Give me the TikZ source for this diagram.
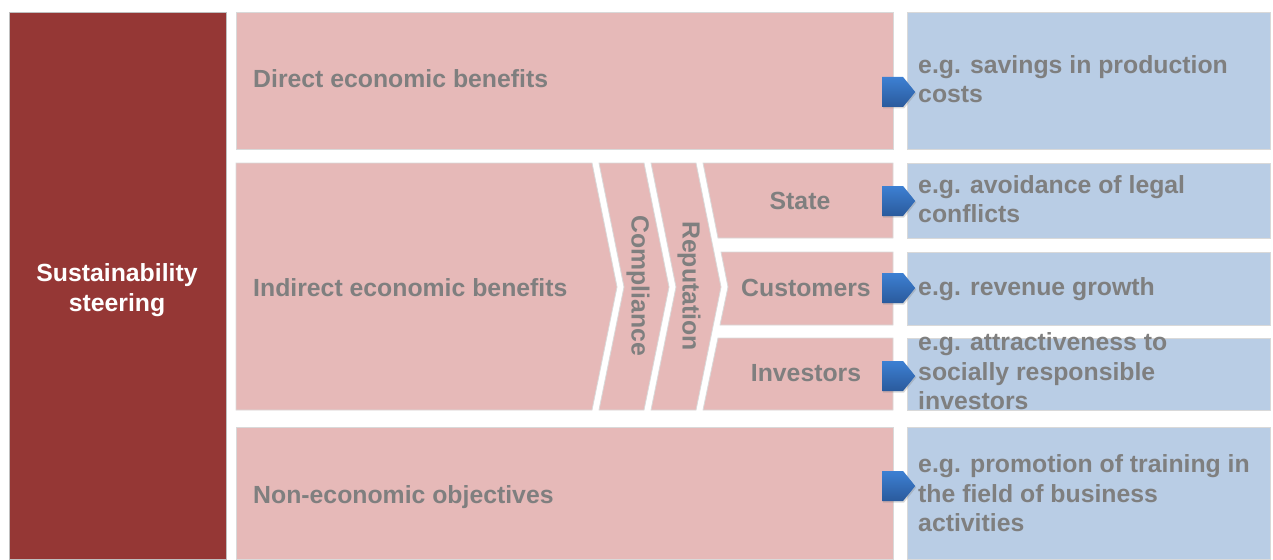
\documentclass[tikz,border=0pt]{standalone}
\usepackage{fontspec}
\setmainfont{Liberation Sans}
\usetikzlibrary{shapes.symbols,shadows}

\definecolor{steerred}{HTML}{953735}
\definecolor{benefitpink}{HTML}{E6B9B8}
\definecolor{exampleblue}{HTML}{B9CDE5}
\definecolor{labelgray}{HTML}{7F7F7F}
\definecolor{arrowtop}{HTML}{3D80D3}
\definecolor{arrowbottom}{HTML}{2A5A9C}

\begin{document}
\begin{tikzpicture}[
	x=1pt, y=-1pt,
	box line/.style={draw=black!15, line width=0.8pt},
	pink box/.style={box line, fill=benefitpink},
	blue box/.style={box line, fill=exampleblue},
	field node/.style={anchor=north west, inner sep=0pt, outer sep=0pt},
	label node/.style={font=\bfseries\fontsize{24.8}{29.5}\selectfont, text=labelgray, inner sep=0pt},
	example node/.style={label node, anchor=north west, align=left},
	block arrow/.style={shape=signal, signal to=east, signal pointer angle=102,
		minimum width=33pt, minimum height=30pt, inner sep=0pt, anchor=west,
		top color=arrowtop, bottom color=arrowbottom,
		drop shadow={shadow xshift=1pt, shadow yshift=-1.5pt, opacity=0.3}}
	]
	\useasboundingbox (0,0) rectangle (1273,559);

	% left column
	\node[field node, fill=steerred, draw=black!25, minimum width=217pt, minimum height=547pt] (steer) at (9,12) {};
	\node[label node, text=white, align=center] (steer label) at (117,290) {Sustainability\\steering};

	% direct and non-economic rows
	\node[field node, pink box, minimum width=657pt, minimum height=137pt] (direct) at (236,12) {};
	\node[field node, pink box, minimum width=657pt, minimum height=132pt] (noneco) at (236,427) {};

	% indirect row with the two chevrons
	\draw[pink box] (236,163) -- (592,163) -- (617,287) -- (592,410) -- (236,410) -- cycle;
	\draw[pink box] (599,163) -- (644,163) -- (669,287) -- (644,410) -- (599,410) -- (624,287) -- cycle;
	\draw[pink box] (651,163) -- (696,163) -- (721,287) -- (696,410) -- (651,410) -- (676,287) -- cycle;

	% stakeholder boxes, notched along the last chevron
	\draw[pink box] (703,163) -- (893,163) -- (893,238) -- (718,238) -- cycle;
	\draw[pink box] (721,252) -- (893,252) -- (893,325) -- (720,325) -- (728,287) -- cycle;
	\draw[pink box] (718,338) -- (893,338) -- (893,410) -- (703,410) -- cycle;

	% example column
	\node[field node, blue box, minimum width=363pt, minimum height=137pt] (ex direct) at (907,12) {};
	\node[field node, blue box, minimum width=363pt, minimum height=75pt] (ex state) at (907,163) {};
	\node[field node, blue box, minimum width=363pt, minimum height=73pt] (ex customers) at (907,252) {};
	\node[field node, blue box, minimum width=363pt, minimum height=72pt] (ex investors) at (907,338) {};
	\node[field node, blue box, minimum width=363pt, minimum height=132pt] (ex noneco) at (907,427) {};

	% row labels
	\node[label node, anchor=base west] (direct label) at (253,88) {Direct economic benefits};
	\node[label node, anchor=base west] (indirect label) at (253,296) {Indirect economic benefits};
	\node[label node, anchor=base west] (noneco label) at (253,503) {Non-economic objectives};
	\node[label node, rotate=-90] (compliance) at (638,286) {Compliance};
	\node[label node, rotate=-90] (reputation) at (689,286) {Reputation};
	\node[label node, anchor=base] (state) at (800,209) {State};
	\node[label node, anchor=base] (customers) at (806,296.5) {Customers};
	\node[label node, anchor=base] (investors) at (806,381.5) {Investors};

	% examples
	\node[example node] (ex1) at (918,55) {e.g. savings in production\\costs};
	\node[example node] (ex2) at (918,175) {e.g. avoidance of legal\\conflicts};
	\node[example node] (ex3) at (918,277) {e.g. revenue growth};
	\node[example node] (ex4) at (918,332.5) {e.g. attractiveness to\\socially responsible\\investors};
	\node[example node] (ex5) at (918,454.7) {e.g. promotion of training in\\the field of business\\activities};

	% arrows into the example column
	\foreach \name/\ypos in {direct/92, state/201, customers/288, investors/376, noneco/486}
		\node[block arrow] (arrow \name) at (882,\ypos) {};
\end{tikzpicture}
\end{document}
